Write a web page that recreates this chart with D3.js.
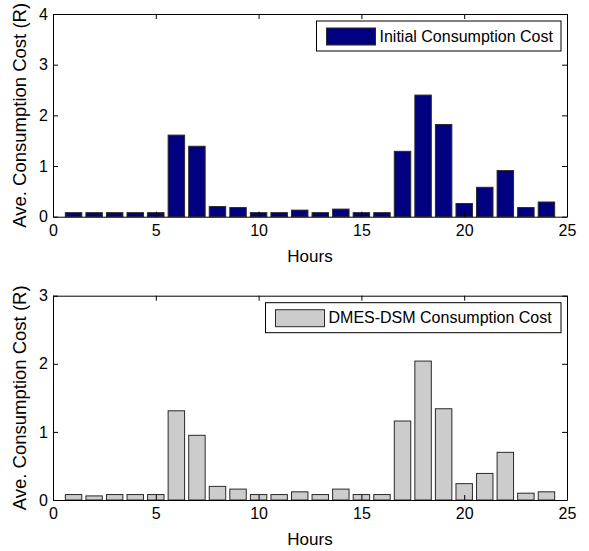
<!DOCTYPE html>
<html>
<head>
<meta charset="utf-8">
<script src="https://cdn.jsdelivr.net/npm/d3@7"></script>
<style>
  body { margin: 0; background: #fff; }
  svg { display: block; font-family: "Liberation Sans", Arial, sans-serif; }
</style>
</head>
<body>
<div id="chart"></div>
<script>
// data
const hours = d3.range(1, 25);
const initialCost = [0.08, 0.08, 0.08, 0.08, 0.08, 1.61, 1.39, 0.20, 0.18, 0.08, 0.08, 0.13,
                     0.08, 0.15, 0.08, 0.08, 1.29, 2.40, 1.82, 0.26, 0.58, 0.91, 0.18, 0.29];
const dmesCost = [0.08, 0.06, 0.08, 0.08, 0.08, 1.31, 0.95, 0.20, 0.16, 0.08, 0.08, 0.12,
                  0.08, 0.16, 0.08, 0.08, 1.16, 2.04, 1.34, 0.24, 0.39, 0.70, 0.10, 0.12];
const xTicks = [0, 5, 10, 15, 20, 25];
const topYTicks = [0, 1, 2, 3, 4];
const bottomYTicks = [0, 1, 2, 3];
const legendTop = "Initial Consumption Cost";
const legendBottom = "DMES-DSM Consumption Cost";
const yLabel = "Ave. Consumption Cost (R)";
const xLabel = "Hours";

const width = 589, height = 551;

const svg = d3.select("#chart").append("svg")
  .attr("width", width)
  .attr("height", height);

function drawPanel(opts) {
  let g = svg.append("g");
  let x = d3.scaleLinear().domain([0, 25]).range([53, 567]);
  let y = d3.scaleLinear().domain([0, opts.yMax]).range([opts.bottom, opts.top]);
  let bw = (x(1) - x(0)) * 0.8;

  // bars
  g.append("g")
    .selectAll("rect")
    .data(opts.values)
    .enter().append("rect")
      .attr("x", (d, i) => x(hours[i]) - bw / 2)
      .attr("y", d => y(d))
      .attr("width", bw)
      .attr("height", d => y(0) - y(d))
      .attr("fill", opts.fill)
      .attr("stroke", "#2a2a2a")
      .attr("stroke-width", 1);

  // axes, ticks pointing inward
  let fmt = d3.format("d");
  g.append("g")
    .attr("transform", `translate(0,${opts.bottom})`)
    .call(d3.axisBottom(x).tickValues(xTicks).tickFormat(fmt).tickSizeInner(-5).tickSizeOuter(0).tickPadding(8));
  g.append("g")
    .attr("transform", `translate(0,${opts.top})`)
    .call(d3.axisTop(x).tickValues(xTicks).tickFormat("").tickSizeInner(-5).tickSizeOuter(0));
  g.append("g")
    .attr("transform", `translate(53,0)`)
    .call(d3.axisLeft(y).tickValues(opts.yTicks).tickFormat(fmt).tickSizeInner(-5).tickSizeOuter(0).tickPadding(5));
  g.append("g")
    .attr("transform", `translate(567,0)`)
    .call(d3.axisRight(y).tickValues(opts.yTicks).tickFormat("").tickSizeInner(-5).tickSizeOuter(0));

  g.selectAll(".domain").attr("stroke", "#000");
  g.selectAll(".tick line").attr("stroke", "#000");
  g.selectAll(".tick text")
    .attr("fill", "#000")
    .style("font-size", "16px")
    .style("font-family", "'Liberation Sans', Arial, sans-serif");

  // labels
  g.append("text")
    .attr("x", (x(0) + x(25)) / 2)
    .attr("y", opts.bottom + 45)
    .attr("text-anchor", "middle")
    .style("font-size", "17px")
    .text(xLabel);

  g.append("text")
    .attr("transform", `translate(26,${(opts.top + opts.bottom) / 2}) rotate(-90)`)
    .attr("text-anchor", "middle")
    .style("font-size", "18.5px")
    .text(yLabel);

  // legend
  let lg = g.append("g");
  lg.append("rect")
    .attr("x", opts.legendX)
    .attr("y", opts.top + 7)
    .attr("width", 561 - opts.legendX)
    .attr("height", 30)
    .attr("fill", "#fff")
    .attr("stroke", "#000")
    .attr("stroke-width", 1);
  lg.append("rect")
    .attr("x", opts.legendX + 10)
    .attr("y", opts.top + 14)
    .attr("width", 49)
    .attr("height", 17)
    .attr("fill", opts.fill)
    .attr("stroke", "#2a2a2a");
  lg.append("text")
    .attr("x", opts.legendX + 63)
    .attr("y", opts.top + 22)
    .attr("dy", "0.35em")
    .style("font-size", "16px")
    .text(opts.legend);
}

drawPanel({ values: initialCost, top: 14, bottom: 216.7, yMax: 4, yTicks: topYTicks,
            fill: "#000080", legend: legendTop, legendX: 316.5 });
drawPanel({ values: dmesCost, top: 295.7, bottom: 500, yMax: 3, yTicks: bottomYTicks,
            fill: "#cccccc", legend: legendBottom, legendX: 265.5 });
</script>
</body>
</html>
